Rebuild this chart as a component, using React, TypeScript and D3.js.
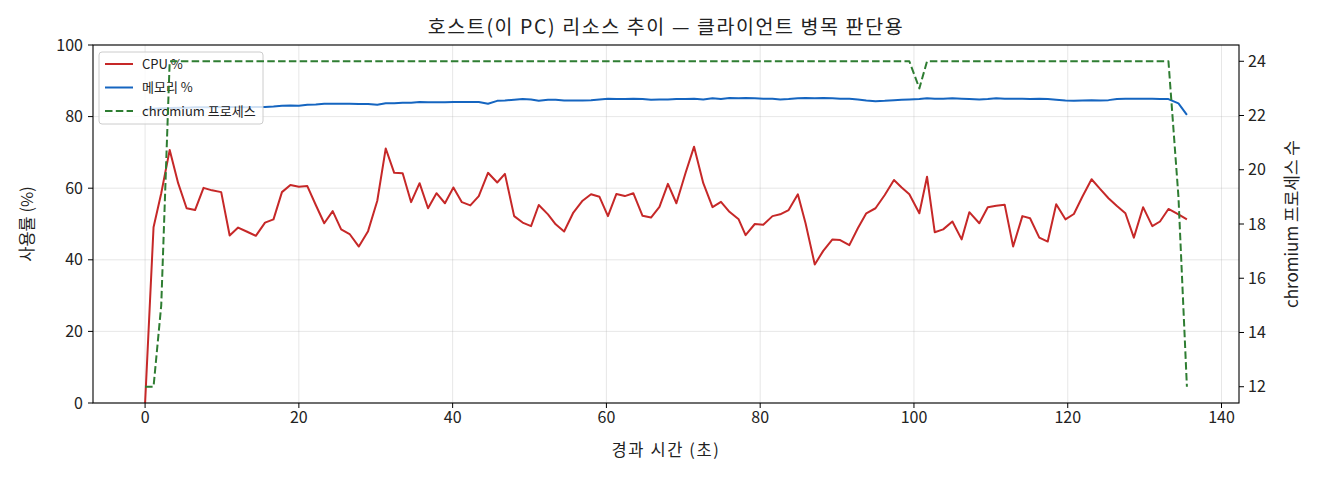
import React from "react";
import * as d3 from "d3";

const seconds = [0, 1.1, 2.1, 3.2, 4.3, 5.4, 6.5, 7.6, 8.7, 9.9, 11.0, 12.1, 13.2, 14.4, 15.6, 16.7, 17.8, 18.9, 20.0, 21.1, 22.2, 23.3, 24.4, 25.5, 26.6, 27.8, 29.0, 30.2, 31.3, 32.4, 33.5, 34.6, 35.7, 36.8, 37.9, 39.0, 40.1, 41.2, 42.3, 43.4, 44.6, 45.8, 46.8, 48.0, 49.1, 50.2, 51.2, 52.4, 53.4, 54.5, 55.7, 56.9, 58.0, 59.1, 60.2, 61.3, 62.4, 63.5, 64.7, 65.8, 66.9, 68.0, 69.1, 70.3, 71.4, 72.6, 73.8, 74.9, 76.0, 77.2, 78.1, 79.3, 80.4, 81.6, 82.6, 83.7, 84.9, 85.9, 87.1, 88.2, 89.4, 90.4, 91.6, 92.7, 93.8, 95.0, 96.2, 97.4, 98.4, 99.4, 100.7, 101.7, 102.7, 103.8, 105.0, 106.2, 107.2, 108.5, 109.6, 110.7, 111.8, 112.9, 114.1, 115.1, 116.3, 117.4, 118.5, 119.7, 120.8, 121.9, 123.1, 124.2, 125.3, 126.4, 127.5, 128.6, 129.8, 131.0, 132.0, 133.1, 134.4, 135.5];

const cpuPct = [0, 49.1, 58.6, 70.7, 61.4, 54.4, 53.9, 60.1, 59.4, 58.9, 46.8, 49.0, 47.9, 46.7, 50.4, 51.3, 58.9, 60.9, 60.4, 60.6, 55.3, 50.2, 53.6, 48.5, 47.2, 43.7, 48.0, 56.5, 71.1, 64.3, 64.2, 56.1, 61.4, 54.4, 58.6, 55.8, 60.2, 56.1, 55.2, 57.8, 64.3, 61.6, 64.0, 52.2, 50.4, 49.4, 55.3, 52.7, 49.9, 47.9, 53.2, 56.5, 58.3, 57.6, 52.2, 58.4, 57.8, 58.6, 52.3, 51.8, 54.8, 61.2, 55.8, 64.3, 71.6, 61.4, 54.7, 56.2, 53.4, 51.3, 46.9, 50.0, 49.8, 52.2, 52.7, 53.9, 58.3, 50.2, 38.7, 42.5, 45.7, 45.5, 44.1, 48.8, 53.0, 54.4, 58.1, 62.3, 60.2, 58.3, 53.0, 63.2, 47.7, 48.5, 50.7, 45.7, 53.3, 50.2, 54.7, 55.1, 55.4, 43.7, 52.2, 51.6, 46.2, 45.1, 55.5, 51.3, 52.8, 57.6, 62.5, 59.8, 57.2, 55.0, 53.0, 46.2, 54.7, 49.4, 50.7, 54.2, 52.7, 51.3];

const memPct = [82.0, 82.2, 82.3, 82.4, 82.5, 82.5, 82.6, 82.6, 82.6, 82.7, 82.7, 82.7, 82.6, 82.7, 82.7, 82.8, 83.0, 83.1, 83.0, 83.3, 83.4, 83.6, 83.6, 83.6, 83.6, 83.5, 83.5, 83.3, 83.7, 83.7, 83.9, 83.9, 84.1, 84.0, 84.0, 84.0, 84.1, 84.1, 84.1, 84.1, 83.6, 84.4, 84.5, 84.7, 84.9, 84.8, 84.4, 84.7, 84.7, 84.5, 84.5, 84.5, 84.6, 84.8, 85.0, 84.9, 84.9, 85.0, 84.9, 84.7, 84.8, 84.8, 84.9, 84.9, 85.0, 84.8, 85.1, 84.9, 85.2, 85.1, 85.2, 85.1, 85.0, 85.0, 84.8, 84.9, 85.1, 85.2, 85.1, 85.2, 85.1, 85.0, 85.0, 84.8, 84.5, 84.3, 84.4, 84.6, 84.7, 84.8, 84.9, 85.1, 85.0, 85.0, 85.1, 85.0, 84.9, 84.8, 84.9, 85.1, 85.0, 85.0, 85.0, 84.9, 85.0, 84.9, 84.7, 84.5, 84.4, 84.5, 84.6, 84.5, 84.6, 84.9, 85.0, 85.0, 85.0, 85.0, 84.9, 84.9, 83.7, 80.5];

const chromiumCount = [12, 12, 15, 24, 24, 24, 24, 24, 24, 24, 24, 24, 24, 24, 24, 24, 24, 24, 24, 24, 24, 24, 24, 24, 24, 24, 24, 24, 24, 24, 24, 24, 24, 24, 24, 24, 24, 24, 24, 24, 24, 24, 24, 24, 24, 24, 24, 24, 24, 24, 24, 24, 24, 24, 24, 24, 24, 24, 24, 24, 24, 24, 24, 24, 24, 24, 24, 24, 24, 24, 24, 24, 24, 24, 24, 24, 24, 24, 24, 24, 24, 24, 24, 24, 24, 24, 24, 24, 24, 24, 23, 24, 24, 24, 24, 24, 24, 24, 24, 24, 24, 24, 24, 24, 24, 24, 24, 24, 24, 24, 24, 24, 24, 24, 24, 24, 24, 24, 24, 24, 19, 12];

const xTicks = [0, 20, 40, 60, 80, 100, 120, 140];
const yLeftTicks = [0, 20, 40, 60, 80, 100];
const yRightTicks = [12, 14, 16, 18, 20, 22, 24];

const titleText = "호스트(이 PC) 리소스 추이 — 클라이언트 병목 판단용";
const xLabel = "경과 시간 (초)";
const yLeftLabel = "사용률 (%)";
const yRightLabel = "chromium 프로세스 수";
const legendLabels = ["CPU %", "메모리 %", "chromium 프로세스"];

const W = 1320;
const H = 480;
const L = 93;
const R = 1239;
const T = 45;
const B = 403;

const FONT = "'Noto Sans CJK KR', 'Noto Sans', sans-serif";
const RED = "#c62828";
const BLUE = "#1565c0";
const GREEN = "#2e7d32";
const INK = "#222";
const TICK_FS = 16;
const LABEL_FS = 16.5;

export default function App() {
  const tMax = d3.max(seconds) as number;
  const x = d3.scaleLinear().domain([-0.05 * tMax, 1.05 * tMax]).range([L, R]);
  const yL = d3.scaleLinear().domain([0, 100]).range([B, T]);
  const yR = d3.scaleLinear().domain([11.4, 24.6]).range([B, T]);

  const idx = seconds.map((_, i) => i);
  const cpuLine = d3.line<number>().x((i) => x(seconds[i])).y((i) => yL(cpuPct[i]))(idx) || "";
  const memLine = d3.line<number>().x((i) => x(seconds[i])).y((i) => yL(memPct[i]))(idx) || "";
  const chrLine = d3.line<number>().x((i) => x(seconds[i])).y((i) => yR(chromiumCount[i]))(idx) || "";

  const legendX = 99;
  const legendY = 52;
  const legendColors = [RED, BLUE, GREEN];

  return (
    <svg
      width={W}
      height={H}
      style={{ position: "absolute", left: 0, top: 0, background: "#fff" }}
      fontFamily={FONT}
    >
      <rect x={0} y={0} width={W} height={H} fill="#fff" />
      <defs>
        <clipPath id="plot">
          <rect x={L} y={T} width={R - L} height={B - T} />
        </clipPath>
      </defs>
      {xTicks.map((t) => (
        <line key={"gx" + t} x1={x(t)} x2={x(t)} y1={T} y2={B} stroke="#b0b0b0" strokeOpacity={0.3} strokeWidth={1} />
      ))}
      {yLeftTicks.map((t) => (
        <line key={"gy" + t} x1={L} x2={R} y1={yL(t)} y2={yL(t)} stroke="#b0b0b0" strokeOpacity={0.3} strokeWidth={1} />
      ))}
      <g clipPath="url(#plot)">
        <path d={cpuLine} fill="none" stroke={RED} strokeWidth={2} strokeLinejoin="round" />
        <path d={memLine} fill="none" stroke={BLUE} strokeWidth={2} strokeLinejoin="round" />
      </g>
      <rect x={legendX} y={legendY} width={164} height={72} rx={3} fill="#fff" fillOpacity={0.8} stroke="#cccccc" strokeWidth={1} />
      {legendLabels.map((lab, i) => {
        const cy = legendY + 12 + i * 23.5;
        return (
          <g key={lab}>
            <line
              x1={legendX + 6}
              x2={legendX + 34}
              y1={cy}
              y2={cy}
              stroke={legendColors[i]}
              strokeWidth={2}
              strokeDasharray={i === 2 ? "7.5,3.3" : undefined}
            />
            <text x={legendX + 43} y={cy} dy="0.35em" fontSize={13} fill={INK}>
              {lab}
            </text>
          </g>
        );
      })}
      <g clipPath="url(#plot)">
        <path d={chrLine} fill="none" stroke={GREEN} strokeWidth={2} strokeDasharray="7.5,3.3" strokeLinejoin="round" />
      </g>
      <rect x={L} y={T} width={R - L} height={B - T} fill="none" stroke="#000" strokeWidth={1.1} />
      {xTicks.map((t) => (
        <g key={"xt" + t}>
          <line x1={x(t)} x2={x(t)} y1={B} y2={B + 5} stroke="#000" strokeWidth={1} />
          <text x={x(t)} y={417.5} dy="0.35em" textAnchor="middle" fontSize={TICK_FS} fill={INK}>
            {t}
          </text>
        </g>
      ))}
      {yLeftTicks.map((t) => (
        <g key={"yl" + t}>
          <line x1={L - 5} x2={L} y1={yL(t)} y2={yL(t)} stroke="#000" strokeWidth={1} />
          <text x={L - 10} y={yL(t)} dy="0.35em" textAnchor="end" fontSize={TICK_FS} fill={INK}>
            {t}
          </text>
        </g>
      ))}
      {yRightTicks.map((t) => (
        <g key={"yr" + t}>
          <line x1={R} x2={R + 5} y1={yR(t)} y2={yR(t)} stroke="#000" strokeWidth={1} />
          <text x={R + 9} y={yR(t)} dy="0.35em" textAnchor="start" fontSize={TICK_FS} fill={INK}>
            {t}
          </text>
        </g>
      ))}
      <text x={(L + R) / 2} y={27} dy="0.35em" textAnchor="middle" fontSize={19.5} letterSpacing={1.6} fill={INK}>
        {titleText}
      </text>
      <text x={(L + R) / 2} y={450} dy="0.35em" textAnchor="middle" fontSize={LABEL_FS} letterSpacing={1.6} fill={INK}>
        {xLabel}
      </text>
      <text transform={`translate(27,${(T + B) / 2}) rotate(-90)`} dy="0.35em" textAnchor="middle" fontSize={LABEL_FS} fill={INK}>
        {yLeftLabel}
      </text>
      <text transform={`translate(1292,${(T + B) / 2}) rotate(-90)`} dy="0.35em" textAnchor="middle" fontSize={17} fill={INK}>
        {yRightLabel}
      </text>
    </svg>
  );
}
